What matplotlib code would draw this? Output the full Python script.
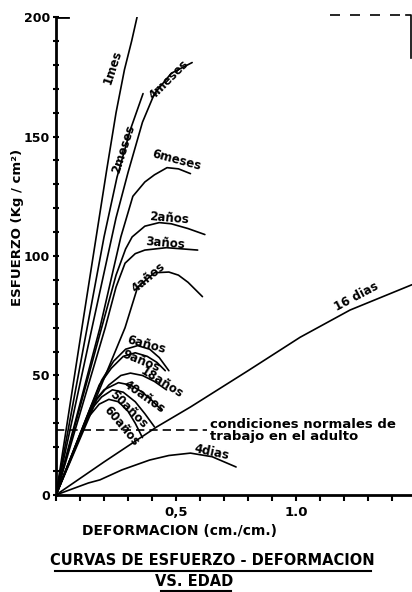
import numpy as np
import matplotlib
matplotlib.use("Agg")
import matplotlib.pyplot as plt
from matplotlib.lines import Line2D

# stress-strain curves: (deformation, stress)
curves = {
    "1mes":   ([0, 0.108, 0.211, 0.25, 0.285, 0.315, 0.3375],
               [0, 70, 136, 160, 178, 190, 200]),
    "2meses": ([0, 0.1, 0.2, 0.254, 0.31, 0.3625],
               [0, 54, 108, 133, 153, 168]),
    "4meses": ([0, 0.15, 0.25, 0.30, 0.36, 0.41, 0.48, 0.567],
               [0, 70, 116, 135, 156, 168, 176.5, 181]),
    "6meses": ([0, 0.183, 0.27, 0.32, 0.37, 0.41, 0.4625, 0.51, 0.56],
               [0, 70, 108, 125, 131, 134, 137, 136.5, 134.5]),
    "2años":  ([0, 0.19, 0.25, 0.29, 0.317, 0.37, 0.43, 0.48, 0.55, 0.62],
               [0, 70, 92, 103, 108, 112.5, 114, 113.5, 111.5, 109]),
    "3años":  ([0, 0.205, 0.25, 0.2875, 0.33, 0.37, 0.46, 0.59],
               [0, 70, 87, 97, 101, 102.5, 103.5, 102.5]),
    "4años":  ([0, 0.2875, 0.34, 0.41, 0.47, 0.51, 0.55, 0.61],
               [0, 70, 87, 93, 93.3, 92, 89, 83]),
    "6años":  ([0, 0.19, 0.24, 0.29, 0.34, 0.39, 0.43, 0.47],
               [0, 48, 56, 61, 62.5, 61, 57.5, 52]),
    "9años":  ([0, 0.18, 0.23, 0.28, 0.33, 0.38, 0.42, 0.455],
               [0, 46, 53, 58, 59.5, 58, 55.5, 52]),
    "18años": ([0, 0.17, 0.22, 0.27, 0.31, 0.36, 0.41, 0.46],
               [0, 40, 46, 50, 51, 50, 47.5, 44]),
    "40años": ([0, 0.15, 0.2, 0.26, 0.31, 0.36, 0.40, 0.44],
               [0, 38, 44, 47, 46, 43, 39.5, 35.5]),
    "50años": ([0, 0.14, 0.19, 0.235, 0.28, 0.33, 0.37, 0.41],
               [0, 35, 41, 44, 43, 39, 34, 28.5]),
    "60años": ([0, 0.13, 0.18, 0.22, 0.26, 0.30, 0.33, 0.36],
               [0, 32, 38, 40, 39, 35, 30, 24]),
    "16 dias": ([0, 0.2, 0.42, 0.56, 0.8, 1.017, 1.225, 1.483],
                [0, 13.8, 28.5, 36.8, 52, 66, 77.4, 88]),
    "4dias":  ([0, 0.135, 0.183, 0.275, 0.39, 0.47, 0.56, 0.65, 0.75],
               [0, 5, 6.3, 10.5, 14.6, 16.5, 17.5, 16, 11.7]),
}

# label anchor (x, y) and rotation for each curve
label_pos = {
    "1mes": (0.2375, 179, 72), "2meses": (0.28, 145, 72),
    "4meses": (0.47, 174, 45), "6meses": (0.50, 140, -15),
    "2años": (0.47, 116, -5), "3años": (0.455, 105.5, -5),
    "4años": (0.385, 91, 40), "6años": (0.375, 63, -15),
    "9años": (0.355, 56, -22), "18años": (0.44, 47, -32),
    "40años": (0.365, 41, -35), "50años": (0.30, 36, -45),
    "60años": (0.27, 29, -50), "16 dias": (1.25, 83, 28),
    "4dias": (0.65, 18, -12),
}

adult_level = 27.2
adult_xmax = 0.63

xtick_vals = np.round(np.arange(0, 1.45, 0.1), 1)
xtick_text = {0.5: "0,5", 1.0: "1.0"}
ytick_vals = list(range(0, 201, 10))

fig = plt.figure(figsize=(4.12, 5.92), dpi=100)
ax = fig.add_axes([0.136, 0.164, 0.864, 0.807])

for name, (xs, ys) in curves.items():
    ax.plot(xs, ys, color="black", lw=1.2, solid_capstyle="round")
    lx, ly, rot = label_pos[name]
    ax.text(lx, ly, name, rotation=rot, ha="center", va="center",
            fontsize=8.5, fontweight="bold", rotation_mode="anchor")

ax.plot([0, adult_xmax], [adult_level, adult_level], color="black",
        lw=1.2, dashes=(5, 3))
ax.text(0.64, 27, "condiciones normales de\ntrabajo en el adulto",
        fontsize=9.5, fontweight="bold", va="center", ha="left",
        linespacing=0.95)

ax.set_xlim(0, 1.483)
ax.set_ylim(0, 200)
for s in ["top", "right"]:
    ax.spines[s].set_visible(False)
for s in ["left", "bottom"]:
    ax.spines[s].set_linewidth(2)
ax.axhline(200, xmax=0.035, color="black", lw=2)

ax.set_xticks(xtick_vals)
ax.set_xticklabels([xtick_text.get(v, "") for v in xtick_vals])
ax.set_yticks(ytick_vals)
ax.set_yticklabels([str(v) if v % 50 == 0 else "" for v in ytick_vals])
ax.tick_params(axis="x", direction="out", length=4, width=1.5, labelsize=9.5, pad=4)
ax.tick_params(axis="y", direction="inout", length=5, width=1.5, labelsize=9, pad=2)
for lab in ax.get_xticklabels() + ax.get_yticklabels():
    lab.set_fontweight("bold")

ax.text(0.5 / 1.483 + 0.01, -0.075, "DEFORMACION (cm./cm.)", transform=ax.transAxes,
        ha="center", va="center", fontsize=10, fontweight="bold")
fig.text(0.043, 0.615, "ESFUERZO (Kg / cm²)", rotation=90, ha="center",
         va="center", fontsize=9.5, fontweight="bold")

fig.text(0.515, 0.053, "CURVAS DE ESFUERZO - DEFORMACION", ha="center",
         va="center", fontsize=10.5, fontweight="bold")
fig.text(0.47, 0.017, "VS. EDAD", ha="center", va="center",
         fontsize=10.5, fontweight="bold")
fig.add_artist(Line2D([0.133, 0.9], [0.036, 0.036], color="black", lw=1.5))
fig.add_artist(Line2D([0.39, 0.56], [0.002, 0.002], color="black", lw=1.5))

# scan frame remnant at top right
fig.add_artist(Line2D([0.80, 0.985], [0.975, 0.975], color="black", lw=1.2, dashes=(6, 6)))
fig.add_artist(Line2D([0.985, 0.998, 0.998], [0.975, 0.975, 0.902], color="black", lw=1.2))

fig.savefig("out.png", dpi=100)
